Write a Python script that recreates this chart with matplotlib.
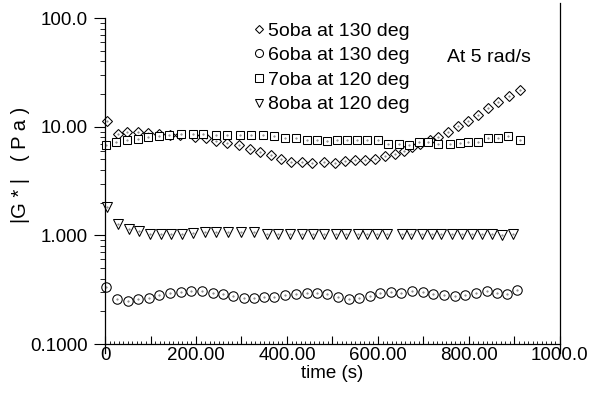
import matplotlib
matplotlib.use("Agg")
import matplotlib.pyplot as plt
from matplotlib.ticker import MultipleLocator, FuncFormatter, LogLocator, NullFormatter

plt.rcParams['font.family'] = ['Liberation Sans', 'DejaVu Sans']

# |G*| at 5 rad/s versus time for the four samples
t_5oba = [5, 28, 49, 72, 95, 119, 142, 165, 198, 222, 245, 269, 294, 318, 341,
          365, 387, 409, 432, 456, 481, 505, 528, 550, 572, 594, 616, 637, 657,
          675, 693, 714, 733, 754, 776, 798, 820, 842, 864, 888, 912]
g_5oba = [11.2, 8.5, 9.0, 9.0, 8.8, 8.5, 8.4, 8.4, 8.1, 7.8, 7.4, 7.1, 6.75, 6.3,
          5.9, 5.5, 5.0, 4.75, 4.75, 4.68, 4.74, 4.67, 4.8, 4.9, 4.9, 5.0, 5.35,
          5.6, 6.0, 6.5, 7.0, 7.5, 8.1, 8.95, 10.1, 11.4, 12.9, 14.8, 16.8, 19.0, 21.7]

t_6oba = [2, 26, 50, 73, 97, 119, 143, 166, 190, 214, 237, 260, 282, 305, 327,
          350, 372, 396, 419, 443, 466, 489, 513, 536, 559, 582, 604, 628, 650,
          675, 698, 721, 745, 769, 791, 815, 839, 861, 883, 905]
g_6oba = [0.333, 0.261, 0.247, 0.261, 0.264, 0.284, 0.296, 0.300, 0.307, 0.305,
          0.296, 0.286, 0.274, 0.267, 0.264, 0.270, 0.270, 0.280, 0.290, 0.296,
          0.296, 0.287, 0.270, 0.261, 0.264, 0.275, 0.296, 0.300, 0.296, 0.305,
          0.300, 0.290, 0.284, 0.275, 0.284, 0.296, 0.305, 0.296, 0.290, 0.315]

t_7oba = [2, 24, 48, 72, 95, 119, 141, 166, 193, 216, 244, 269, 297, 322, 348,
          371, 396, 420, 443, 465, 487, 509, 531, 553, 576, 601, 623, 646, 668,
          691, 711, 733, 758, 780, 798, 820, 842, 864, 886, 912]
g_7oba = [6.75, 7.2, 7.5, 7.7, 8.05, 8.2, 8.4, 8.5, 8.6, 8.5, 8.35, 8.35, 8.35,
          8.35, 8.35, 8.2, 7.95, 7.8, 7.6, 7.5, 7.4, 7.5, 7.5, 7.5, 7.5, 7.5, 7.0,
          6.9, 6.85, 7.2, 7.3, 7.0, 7.0, 7.1, 7.2, 7.3, 7.8, 7.9, 8.2, 7.5]

t_8oba = [5, 29, 53, 75, 99, 122, 145, 169, 194, 220, 245, 271, 300, 327, 355,
          381, 407, 432, 458, 481, 507, 529, 557, 577, 597, 619, 652, 672, 696,
          718, 738, 762, 784, 806, 828, 850, 872, 897]
g_8oba = [1.82, 1.28, 1.14, 1.09, 1.04, 1.03, 1.04, 1.04, 1.06, 1.08, 1.07, 1.07,
          1.08, 1.08, 1.04, 1.04, 1.04, 1.04, 1.04, 1.04, 1.04, 1.04, 1.04, 1.04,
          1.04, 1.04, 1.04, 1.04, 1.04, 1.04, 1.04, 1.04, 1.03, 1.03, 1.03, 1.03,
          1.01, 1.03]

labels = ["5oba at 130 deg", "6oba at 130 deg", "7oba at 120 deg", "8oba at 120 deg"]
x_ticks = [0, 200, 400, 600, 800, 1000]
x_tick_labels = ["0", "200.00", "400.00", "600.00", "800.00", "1000.0"]
y_ticks = [0.1, 1, 10, 100]
y_tick_labels = ["0.1000", "1.000", "10.00", "100.0"]

TICK_FS = 13.5
TEXT_FS = 14

fig = plt.figure(figsize=(5.90, 4.01), dpi=100)
ax = fig.add_axes([0.178, 0.142, 0.771, 0.813])

series = [
    (t_5oba, g_5oba, "D", 4.6),
    (t_6oba, g_6oba, "o", 6.8),
    (t_7oba, g_7oba, "s", 6.0),
    (t_8oba, g_8oba, "v", 6.8),
]
handles = []
for (t, g, m, ms), lab in zip(series, labels):
    h, = ax.plot(t, g, linestyle="none", marker=m, markersize=ms,
                 markerfacecolor="white", markeredgecolor="black",
                 markeredgewidth=0.75, label=lab, clip_on=False)
    ax.plot(t, g, linestyle="none", marker=".", markersize=1.0,
            color="0.45", clip_on=False)
    handles.append(h)

ax.set_yscale("log")
ax.set_xlim(0, 1000)
ax.set_ylim(0.1, 100)

# x axis: labelled every 200, ticks every 100, small ticks every 10, pointing in
ax.xaxis.set_major_locator(MultipleLocator(100))
ax.xaxis.set_major_formatter(FuncFormatter(
    lambda v, p: x_tick_labels[x_ticks.index(int(round(v)))] if int(round(v)) in x_ticks else ""))
ax.xaxis.set_minor_locator(MultipleLocator(10))
ax.tick_params(axis="x", which="major", direction="in", length=6, width=0.8,
               pad=2, labelsize=TICK_FS)
ax.tick_params(axis="x", which="minor", direction="in", length=2.5, width=0.6)

# y axis: decades labelled, ticks pointing out
ax.set_yticks(y_ticks)
ax.set_yticklabels(y_tick_labels)
ax.yaxis.set_minor_locator(LogLocator(base=10, subs=range(2, 10)))
ax.yaxis.set_minor_formatter(NullFormatter())
ax.tick_params(axis="y", which="major", direction="out", length=8, width=0.8,
               pad=4.5, labelsize=TICK_FS)
ax.tick_params(axis="y", which="minor", direction="out", length=3.5, width=0.6)

for side in ("top", "right"):
    ax.spines[side].set_visible(False)
for side in ("left", "bottom"):
    ax.spines[side].set_linewidth(0.9)

# frame line on the right, running above the plot area, and short drops below the axis ends
ax.plot([1, 1], [-0.028, 1.045], transform=ax.transAxes, color="black",
        linewidth=0.9, clip_on=False)
ax.plot([0, 0], [-0.028, 0], transform=ax.transAxes, color="black",
        linewidth=0.9, clip_on=False)

ax.set_xlabel("time (s)", fontsize=TICK_FS, labelpad=1)
ax.set_ylabel("|G * |   ( P a )", fontsize=14.5)
ax.yaxis.set_label_coords(-0.165, 0.55)

ax.legend(handles=handles, loc="upper left", bbox_to_anchor=(0.325, 0.988),
          frameon=False, fontsize=TEXT_FS, handlelength=0.6, handletextpad=0.2,
          labelspacing=0.36, borderpad=0, borderaxespad=0, markerscale=0.85)

ax.text(0.752, 0.88, "At 5 rad/s", transform=ax.transAxes, fontsize=TEXT_FS,
        va="center", ha="left")

fig.savefig("out.png", dpi=100)
